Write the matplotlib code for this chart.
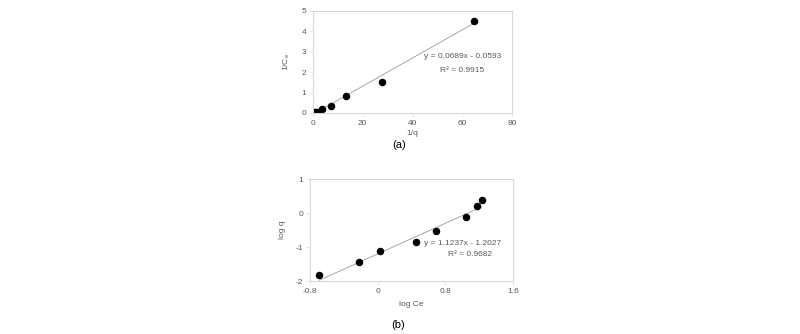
import numpy as np
import matplotlib as mpl
mpl.use('Agg')
import matplotlib.pyplot as plt

plt.rcParams['font.family'] = ['Liberation Sans', 'DejaVu Sans']
plt.rcParams['axes.unicode_minus'] = False

# (a) 1/q vs 1/Ce
inv_q = [0.5, 1.0, 1.8, 3.6, 7.4, 13.4, 27.7, 64.8]
inv_ce = [0.03, 0.05, 0.06, 0.20, 0.33, 0.84, 1.52, 4.52]
slope_a, icpt_a = 0.0689, -0.0593

# (b) log Ce vs log q
log_ce = [-0.69, -0.22, 0.03, 0.45, 0.69, 1.05, 1.17, 1.23]
log_q = [-1.82, -1.45, -1.13, -0.86, -0.53, -0.12, 0.20, 0.38]
slope_b, icpt_b = 1.1237, -1.2027

grey = '#595959'
spine = '#d9d9d9'

fig = plt.figure(figsize=(8, 3.34), dpi=100)


def style(ax):
    for s in ax.spines.values():
        s.set_color(spine)
        s.set_linewidth(0.8)
    ax.tick_params(colors=spine, labelcolor=grey, labelsize=6, length=2, width=0.6, pad=3)


###################################
ax1 = fig.add_axes([313/800, 1-113/334, 199/800, 102/334])
xs = np.array([min(inv_q), max(inv_q)])
ax1.plot(xs, slope_a*xs + icpt_a, color='#9a9a9a', lw=0.6)
ax1.plot(inv_q, inv_ce, 'o', color='black', ms=4.4)
ax1.set_xlim(0, 80)
ax1.set_ylim(0, 5)
ax1.set_xticks([0, 20, 40, 60, 80])
ax1.set_yticks([0, 1, 2, 3, 4, 5])
style(ax1)
ax1.set_xlabel('1/q', fontsize=6, color=grey, labelpad=2)
ax1.set_ylabel(r'1/C$_\mathregular{e}$', fontsize=6, color=grey, labelpad=7)
ax1.text(0.75, 0.55, 'y = 0.0689x - 0.0593', transform=ax1.transAxes,
         fontsize=6, color=grey, ha='center', va='center')
ax1.text(0.75, 0.415, 'R² = 0.9915', transform=ax1.transAxes,
         fontsize=6, color=grey, ha='center', va='center')
fig.text(399/800, 1-145/334, '(a)', fontsize=8, color='black', ha='center', va='center')

###################################
ax2 = fig.add_axes([310/800, 1-281/334, 203/800, 102/334])
xs = np.array([min(log_ce), max(log_ce)])
ax2.plot(xs, slope_b*xs + icpt_b, color='#9a9a9a', lw=0.6)
ax2.plot(log_ce, log_q, 'o', color='black', ms=4.4)
ax2.set_xlim(-0.8, 1.6)
ax2.set_ylim(-2, 1)
ax2.set_xticks([-0.8, 0, 0.8, 1.6])
ax2.set_xticklabels(['-0.8', '0', '0.8', '1.6'])
ax2.set_yticks([-2, -1, 0, 1])
style(ax2)
ax2.set_xlabel('log Ce', fontsize=6, color=grey, labelpad=4)
ax2.set_ylabel('log q', fontsize=6, color=grey, labelpad=7)
ax2.text(0.75, 0.37, 'y = 1.1237x - 1.2027', transform=ax2.transAxes,
         fontsize=6, color=grey, ha='center', va='center')
ax2.text(0.79, 0.255, 'R² = 0.9682', transform=ax2.transAxes,
         fontsize=6, color=grey, ha='center', va='center')
fig.text(398/800, 1-325/334, '(b)', fontsize=8, color='black', ha='center', va='center')

fig.savefig('out.png')
